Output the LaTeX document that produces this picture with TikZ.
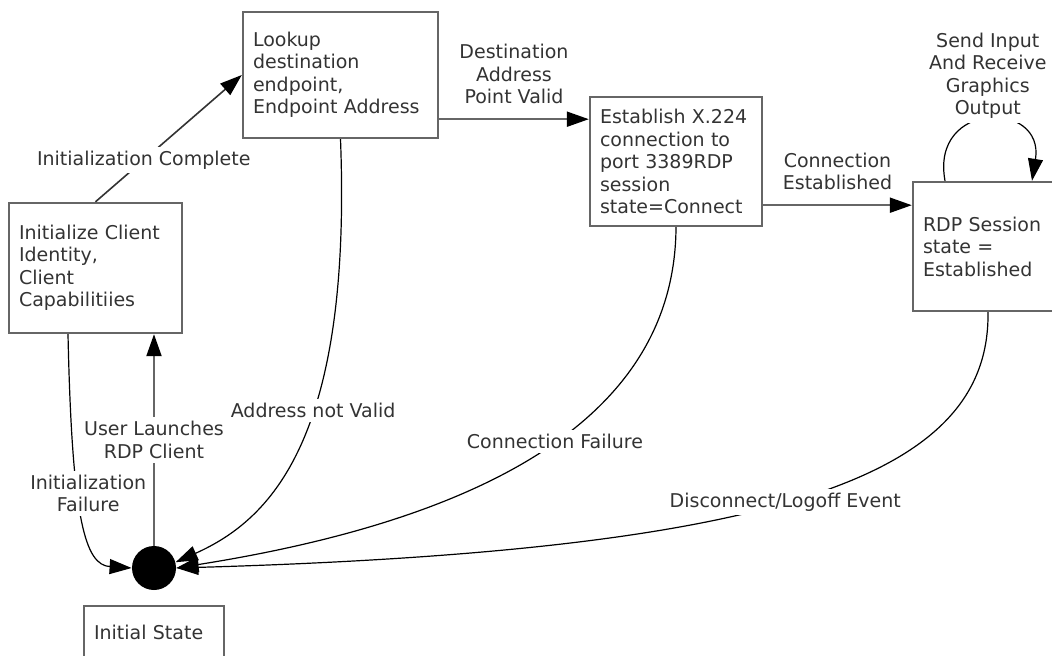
\documentclass[tikz,border=0pt]{standalone}
\usepackage{fontspec}
\setmainfont{DejaVu Sans}
\usetikzlibrary{arrows.meta}
\tikzset{
  st_node/.style = {align=left, inner xsep=5pt, text=black!80,
    font=\fontsize{9.5pt}{11.25pt}\selectfont},
  st_box/.style = {st_node, rectangle, draw=black!60, line width=1.2pt},
  st_init/.style = {circle, fill=black, minimum size=22pt, inner sep=0pt},
  st_lbl/.style = {align=center, fill=white, inner sep=2pt, text=black!80,
    font=\fontsize{9.5pt}{11.25pt}\selectfont},
  tr_line/.style = {-{Triangle[length=11pt,width=7.5pt,color=black]},
    draw=black!60, line width=1pt},
  tr_curve/.style = {-{Triangle[length=11pt,width=7.5pt]}, draw=black,
    line width=0.6pt}
}
\begin{document}
\begin{tikzpicture}[x=0.5pt,y=-0.5pt]
  \clip (0,0) rectangle (1052,656);
  % states
  \node [st_box, text width=76.5pt, minimum height=65pt] (init) at (95.5,268)
    {Initialize Client\\Identity,\\Client\\Capabilitiies};
  \node [st_box, text width=87.5pt, minimum height=63pt] (lookup) at (340.5,75)
    {Lookup\\destination\\endpoint,\\Endpoint Address};
  \node [st_box, text width=76pt, minimum height=64.5pt] (estab) at (676,161.5)
    {Establish X.224\\connection to\\port 3389RDP\\session\\state=Connect};
  \node [st_box, text width=65pt, minimum height=64.5pt] (rdp) at (988,246.5)
    {RDP Session\\state =\\Established};
  \node [st_init] (start) at (154,568) {};
  \node [st_box, text width=60pt, minimum height=26pt] (initial) at (154,632)
    {Initial State};
  % failures back to the start
  \draw [tr_curve] ([xshift=-13.75pt]init.south) .. controls (72,520) and (85,565) .. (start.west)
    node [st_lbl, pos=0.39, xshift=5pt] {Initialization\\Failure};
  \draw [tr_curve] (lookup.south) .. controls (352,440) and (270,520) .. (start.15)
    node [st_lbl, pos=0.41] {Address not Valid};
  \draw [tr_curve] (estab.south) .. controls (675,420) and (480,520) .. (start.east)
    node [st_lbl, pos=0.47] {Connection Failure};
  \draw [tr_curve] (rdp.south) .. controls (990,470) and (800,550) .. (start.east)
    node [st_lbl, pos=0.54] {Disconnect/Logoff Event};
  % forward transitions
  \draw [tr_line] (start.north) -- (start.north |- init.south)
    node [st_lbl, midway] {User Launches\\RDP Client};
  \draw [tr_line, draw=black!80, line width=0.8pt] (init.north) -- (lookup.west)
    node [st_lbl, pos=0.33] {Initialization Complete};
  \draw [tr_line] ([yshift=10pt]lookup.south east) coordinate (dv) -- (dv -| estab.west)
    node [st_lbl, midway, above=5pt] {Destination\\Address\\Point Valid};
  \draw [tr_line] ([yshift=11pt]estab.south east) coordinate (ce) -- (ce -| rdp.west)
    node [st_lbl, midway, above=5pt] {Connection\\Established};
  \draw [tr_curve] ([xshift=-21.5pt]rdp.north) .. controls (930,100) and (1045,100) .. ([xshift=22pt]rdp.north)
    node [st_lbl, pos=0.5, above=-1.5pt] {Send Input\\And Receive\\Graphics\\Output};
\end{tikzpicture}
\end{document}
